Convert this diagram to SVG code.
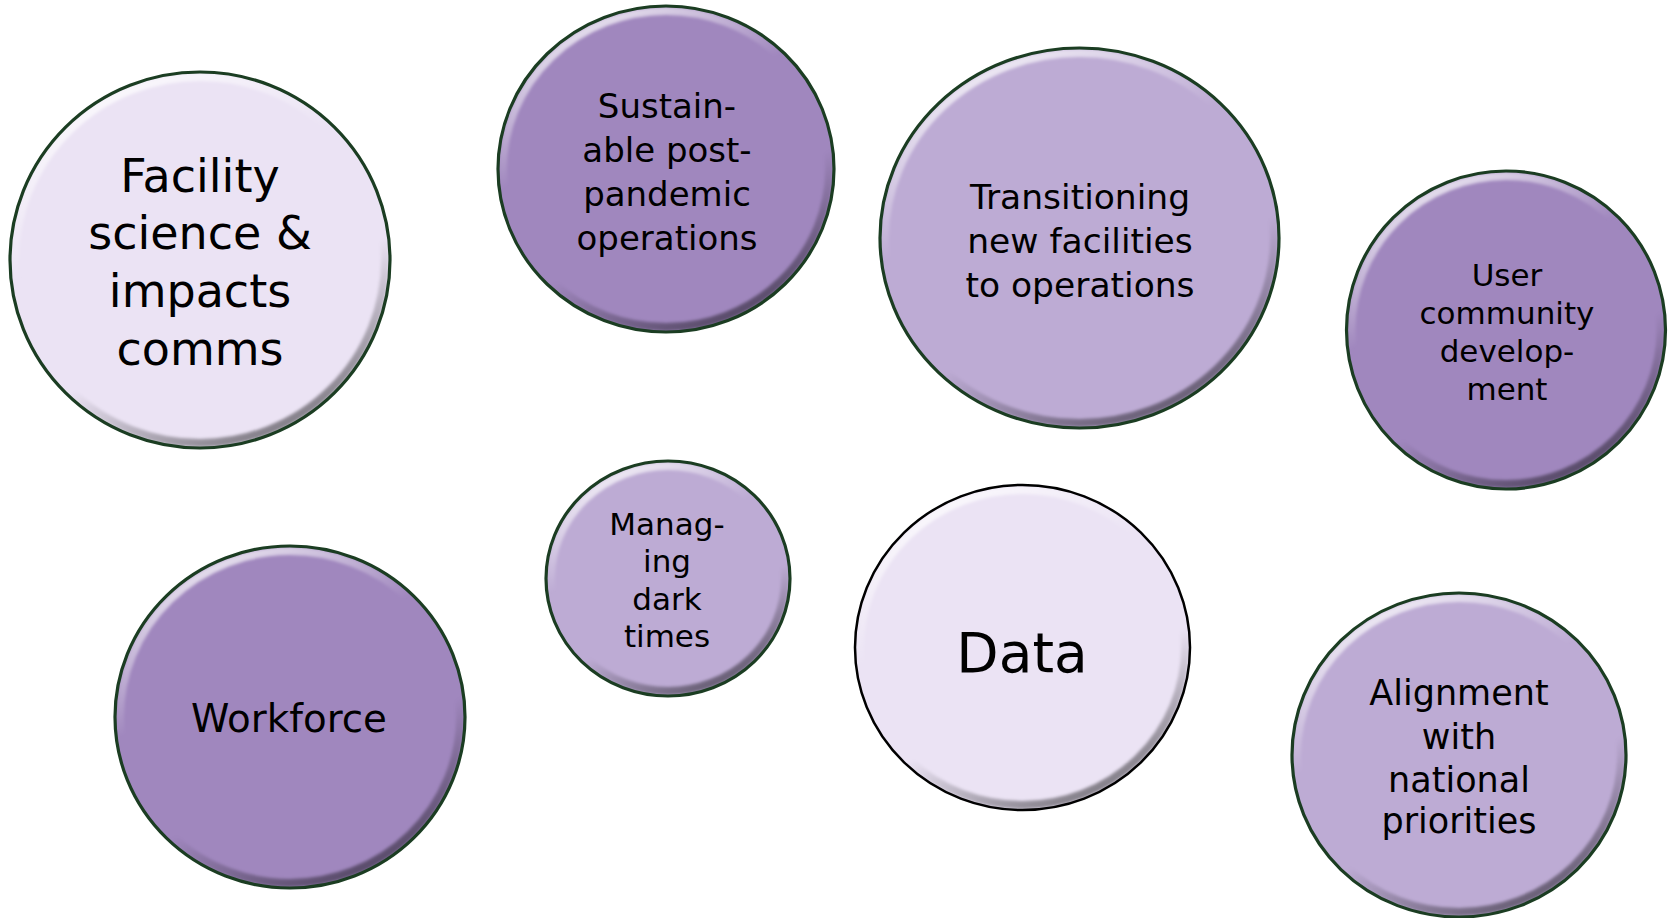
<svg xmlns="http://www.w3.org/2000/svg" width="1673" height="918" viewBox="0 0 1673 918">
<defs>
<linearGradient id="bevel" x1="0.25" y1="0" x2="0.75" y2="1">
<stop offset="0" stop-color="#ffffff" stop-opacity="0.8"/>
<stop offset="0.35" stop-color="#ffffff" stop-opacity="0"/>
<stop offset="0.65" stop-color="#000000" stop-opacity="0"/>
<stop offset="1" stop-color="#000000" stop-opacity="0.5"/>
</linearGradient>
<filter id="soft" x="-5%" y="-5%" width="110%" height="110%">
<feGaussianBlur stdDeviation="1.6"/>
</filter>
<style>
.bg{fill:#ffffff}
.light{fill:#EBE3F4}
.dark{fill:#A087BE}
.mid{fill:#BDABD4}
.bev{fill:none;stroke:url(#bevel);stroke-width:8;filter:url(#soft)}
.rim{fill:none;stroke:#1B3D22;stroke-width:3.2}
.rimk{fill:none;stroke:#000000;stroke-width:2.5}
text{font-family:"DejaVu Sans","Verdana","Liberation Sans",sans-serif;fill:#000000;text-anchor:middle}
</style>
</defs>
<rect class="bg" x="0" y="0" width="1673" height="918"/>
<g id="connectors"></g>

<g id="node-facility">
<ellipse class="light" cx="200" cy="260" rx="190" ry="188"/>
<ellipse class="bev" cx="200" cy="260" rx="185" ry="183"/>
<ellipse class="rim" cx="200" cy="260" rx="190" ry="188"/>
<text font-size="46"><tspan x="200" y="192">Facility</tspan><tspan x="200" y="249">science &amp;</tspan><tspan x="200" y="307">impacts</tspan><tspan x="200" y="365">comms</tspan></text>
</g>

<g id="node-sustainable">
<ellipse class="dark" cx="666" cy="169" rx="168" ry="163"/>
<ellipse class="bev" cx="666" cy="169" rx="163" ry="158"/>
<ellipse class="rim" cx="666" cy="169" rx="168" ry="163"/>
<text font-size="34"><tspan x="667" y="118">Sustain-</tspan><tspan x="667" y="162">able post-</tspan><tspan x="667" y="206">pandemic</tspan><tspan x="667" y="250">operations</tspan></text>
</g>

<g id="node-transitioning">
<ellipse class="mid" cx="1079.5" cy="238" rx="199.5" ry="190"/>
<ellipse class="bev" cx="1079.5" cy="238" rx="194.5" ry="185"/>
<ellipse class="rim" cx="1079.5" cy="238" rx="199.5" ry="190"/>
<text font-size="34.5"><tspan x="1080" y="209">Transitioning</tspan><tspan x="1080" y="253">new facilities</tspan><tspan x="1080" y="297">to operations</tspan></text>
</g>

<g id="node-user">
<ellipse class="dark" cx="1506" cy="330" rx="159.5" ry="159"/>
<ellipse class="bev" cx="1506" cy="330" rx="154.5" ry="154"/>
<ellipse class="rim" cx="1506" cy="330" rx="159.5" ry="159"/>
<text font-size="31"><tspan x="1507" y="286">User</tspan><tspan x="1507" y="324">community</tspan><tspan x="1507" y="362">develop-</tspan><tspan x="1507" y="400">ment</tspan></text>
</g>

<g id="node-managing">
<ellipse class="mid" cx="668" cy="578.5" rx="122" ry="117.5"/>
<ellipse class="bev" cx="668" cy="578.5" rx="117" ry="112.5"/>
<ellipse class="rim" cx="668" cy="578.5" rx="122" ry="117.5"/>
<text font-size="31"><tspan x="667" y="535">Manag-</tspan><tspan x="667" y="572">ing</tspan><tspan x="667" y="610">dark</tspan><tspan x="667" y="647">times</tspan></text>
</g>

<g id="node-data">
<ellipse class="light" cx="1022.5" cy="647.5" rx="167.5" ry="162.5"/>
<ellipse class="bev" cx="1022.5" cy="647.5" rx="162.5" ry="157.5"/>
<ellipse class="rimk" cx="1022.5" cy="647.5" rx="167.5" ry="162.5"/>
<text font-size="55"><tspan x="1022" y="672">Data</tspan></text>
</g>

<g id="node-workforce">
<ellipse class="dark" cx="290" cy="717" rx="175" ry="171"/>
<ellipse class="bev" cx="290" cy="717" rx="170" ry="166"/>
<ellipse class="rim" cx="290" cy="717" rx="175" ry="171"/>
<text font-size="38.8"><tspan x="289" y="732">Workforce</tspan></text>
</g>

<g id="node-alignment">
<ellipse class="mid" cx="1459" cy="755" rx="167" ry="162"/>
<ellipse class="bev" cx="1459" cy="755" rx="162" ry="157"/>
<ellipse class="rim" cx="1459" cy="755" rx="167" ry="162"/>
<text font-size="35"><tspan x="1459" y="705">Alignment</tspan><tspan x="1459" y="749">with</tspan><tspan x="1459" y="792">national</tspan><tspan x="1459" y="833">priorities</tspan></text>
</g>
</svg>
